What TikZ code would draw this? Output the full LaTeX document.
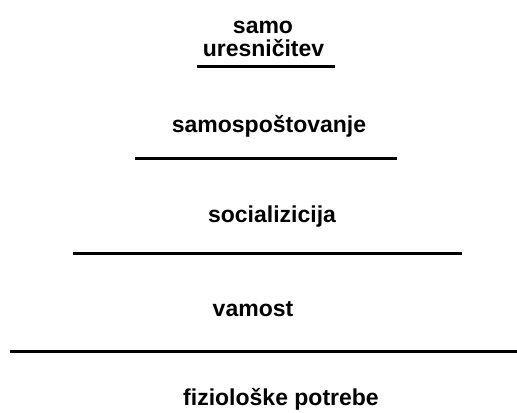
\documentclass[tikz,border=0pt]{standalone}
\usepackage{fontspec}
\setmainfont{Liberation Sans}
\usepackage{tikz}

\begin{document}
\begin{tikzpicture}[
    x=1bp, y=-1bp,
    need/.style={
      anchor=base, inner sep=0pt,
      font=\fontsize{23bp}{24bp}\selectfont\bfseries
    },
    level/.style={line width=3bp, draw=black},
  ]
    \useasboundingbox (0,0) rectangle (517,412);

    \node[need] (samo) at (263,33) {samo};
    \node[need] (uresnicitev) at (263.5,56) {uresničitev};
    \draw[level] (197,66) -- (335,66);

    \node[need] (samospostovanje) at (269,132) {samospoštovanje};
    \draw[level] (135,158) -- (397,158);

    \node[need] (socializicija) at (272,222) {socializicija};
    \draw[level] (73,253) -- (462,253);

    \node[need] (varnost) at (253,316) {vamost};
    \draw[level] (10,351) -- (517,351);

    \node[need] (fizioloske) at (281,405) {fiziološke potrebe};
  \end{tikzpicture}
\end{document}
